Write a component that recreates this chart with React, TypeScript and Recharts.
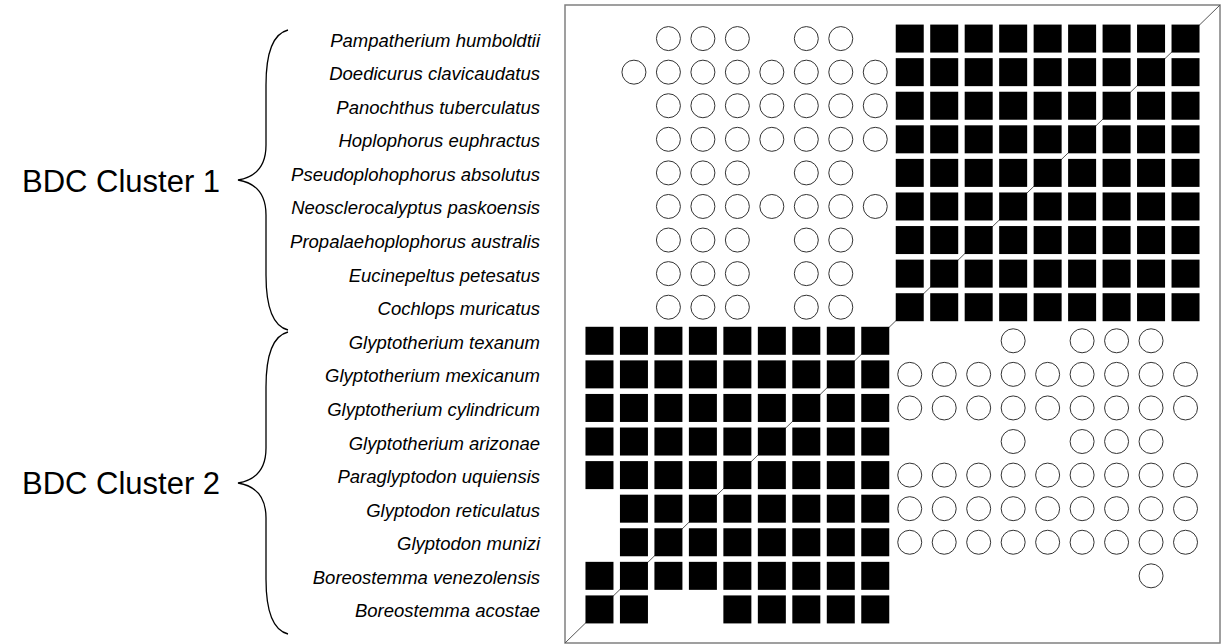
import { ScatterChart, Scatter, XAxis, YAxis, ReferenceArea } from 'recharts';

const cluster1 = [
  'Pampatherium humboldtii',
  'Doedicurus clavicaudatus',
  'Panochthus tuberculatus',
  'Hoplophorus euphractus',
  'Pseudoplohophorus absolutus',
  'Neosclerocalyptus paskoensis',
  'Propalaehoplophorus australis',
  'Eucinepeltus petesatus',
  'Cochlops muricatus',
];

const cluster2 = [
  'Glyptotherium texanum',
  'Glyptotherium mexicanum',
  'Glyptotherium cylindricum',
  'Glyptotherium arizonae',
  'Paraglyptodon uquiensis',
  'Glyptodon reticulatus',
  'Glyptodon munizi',
  'Boreostemma venezolensis',
  'Boreostemma acostae',
];

// one string per row, one char per column: S = filled square, o = open circle, . = nothing
const cluster1Rows = [
  '..ooo.oo.SSSSSSSSS',
  '.ooooooooSSSSSSSSS',
  '..oooooooSSSSSSSSS',
  '..oooooooSSSSSSSSS',
  '..ooo.oo.SSSSSSSSS',
  '..oooooooSSSSSSSSS',
  '..ooo.oo.SSSSSSSSS',
  '..ooo.oo.SSSSSSSSS',
  '..ooo.oo.SSSSSSSSS',
];

const cluster2Rows = [
  'SSSSSSSSS...o.ooo.',
  'SSSSSSSSSooooooooo',
  'SSSSSSSSSooooooooo',
  'SSSSSSSSS...o.ooo.',
  'SSSSSSSSSooooooooo',
  '.SSSSSSSSooooooooo',
  '.SSSSSSSSooooooooo',
  'SSSSSSSSS.......o.',
  'SS..SSSSS.........',
];

const species = [...cluster1, ...cluster2];
const rows = [...cluster1Rows, ...cluster2Rows];
const rowTicks = species.map((_, i) => i);
const lo = -1;
const hi = species.length;

const squares: { x: number; y: number }[] = [];
const circles: { x: number; y: number }[] = [];
rows.forEach((row, r) => {
  row.split('').forEach((ch, c) => {
    if (ch === 'S') squares.push({ x: c, y: r });
    if (ch === 'o') circles.push({ x: c, y: r });
  });
});

const diagonal = [
  { x: lo, y: hi },
  { x: hi, y: lo },
];

const font = '"Liberation Sans", Arial, sans-serif';

const SquareShape = (props: any) => (
  <rect x={props.cx - 14} y={props.cy - 14} width={28} height={28} fill="#000" />
);

const CircleShape = (props: any) => (
  <circle cx={props.cx} cy={props.cy} r={12} fill="#fff" stroke="#333" strokeWidth={1} />
);

const SpeciesTick = (props: any) => {
  const { x, y, payload } = props;
  return (
    <text x={x} y={y} dy={8} textAnchor="end" fontSize={18.5} fontStyle="italic" fontFamily={font} fill="#000">
      {species[payload.value]}
    </text>
  );
};

function Brace({ top, bottom }: { top: number; bottom: number }) {
  const mid = (top + bottom) / 2;
  const d = `M 288 ${top} C 272 ${top + 4}, 266 ${top + 24}, 266 ${top + 55}
    L 266 ${mid - 35} C 266 ${mid - 15}, 256 ${mid - 3}, 238 ${mid}
    C 256 ${mid + 3}, 266 ${mid + 15}, 266 ${mid + 35}
    L 266 ${bottom - 55} C 266 ${bottom - 24}, 272 ${bottom - 4}, 288 ${bottom}`;
  return <path d={d} fill="none" stroke="#000" strokeWidth={1.3} />;
}

export default function App() {
  return (
    <div style={{ position: 'absolute', left: 0, top: 0, width: 1225, height: 644, background: '#fff' }}>
      <ScatterChart width={1225} height={644} margin={{ top: 5, right: 5, bottom: 1, left: 0 }}>
        <XAxis type="number" dataKey="x" domain={[lo, hi]} hide />
        <YAxis
          type="number"
          dataKey="y"
          domain={[lo, hi]}
          reversed
          ticks={rowTicks}
          interval={0}
          width={565}
          axisLine={false}
          tickLine={false}
          tickSize={0}
          tickMargin={25}
          tick={<SpeciesTick />}
        />
        <ReferenceArea x1={lo} x2={hi} y1={lo} y2={hi} fill="none" fillOpacity={0} stroke="#808080" strokeWidth={1.5} ifOverflow="visible" />
        <Scatter data={diagonal} line={{ stroke: '#555', strokeWidth: 1 }} shape={() => <g />} isAnimationActive={false} />
        <Scatter data={squares} shape={SquareShape} isAnimationActive={false} />
        <Scatter data={circles} shape={CircleShape} isAnimationActive={false} />
      </ScatterChart>
      <svg width={1225} height={644} style={{ position: 'absolute', left: 0, top: 0, pointerEvents: 'none' }}>
        <Brace top={30} bottom={330} />
        <Brace top={332} bottom={634} />
        <text x={22} y={192} fontSize={31} fontFamily={font} fill="#000">BDC Cluster 1</text>
        <text x={22} y={494} fontSize={31} fontFamily={font} fill="#000">BDC Cluster 2</text>
      </svg>
    </div>
  );
}
